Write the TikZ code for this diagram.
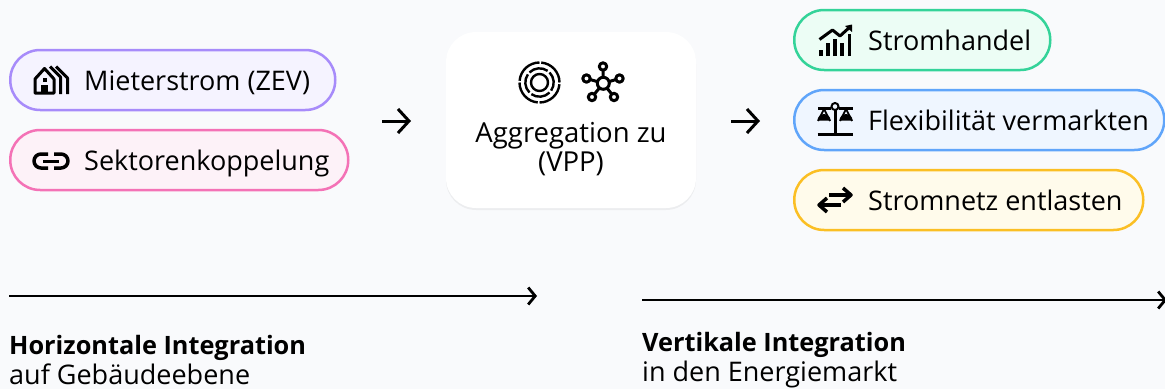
\documentclass[tikz,border=0pt]{standalone}
\usepackage{fontspec}
\setmainfont{Open Sans}
\usetikzlibrary{arrows.meta,shadows}
\definecolor{pagebg}{HTML}{F9FAFC}
\definecolor{violetline}{HTML}{A78BFA}
\definecolor{violetfill}{HTML}{F5F3FF}
\definecolor{pinkline}{HTML}{F472B6}
\definecolor{pinkfill}{HTML}{FDF2F8}
\definecolor{greenline}{HTML}{34D399}
\definecolor{greenfill}{HTML}{ECFDF5}
\definecolor{blueline}{HTML}{60A5FA}
\definecolor{bluefill}{HTML}{EFF6FF}
\definecolor{amberline}{HTML}{FBBF24}
\definecolor{amberfill}{HTML}{FFFBEB}
\begin{document}
\begin{tikzpicture}[
        x=1pt, y=-1pt,
        pill/.style 2 args={rectangle, draw=#1, fill=#2, line width=2.5pt,
          rounded corners=29.9pt, minimum height=60pt, inner sep=0pt, anchor=west},
        pilltext/.style={anchor=base west, inner sep=0pt, font=\fontsize{27}{30}\selectfont},
        card/.style={rectangle, fill=white, rounded corners=30pt, minimum width=250pt,
          minimum height=176pt, inner sep=0pt,
          drop shadow={shadow xshift=0pt, shadow yshift=-2pt, fill=black, opacity=0.05}},
        cardtext/.style={align=center, inner sep=0pt, font=\fontsize{27.5}{29}\selectfont},
        headtext/.style={anchor=base west, inner sep=0pt, align=left, font=\fontsize{27}{30}\selectfont},
        flow/.style={->, >={Straight Barb[length=11pt, width=24pt]}, line width=3pt},
        axis/.style={->, >={Straight Barb[length=7pt, width=17pt]}, line width=2.8pt},
        icon/.style={line width=3pt, line join=round},
        thinicon/.style={line width=2.4pt}
      ]
      \fill[pagebg] (0,0) rectangle (1165,389);
      \useasboundingbox (0,0) rectangle (1165,389);

      \node[pill={violetline}{violetfill}, minimum width=325pt] (mieter) at (9,80) {};
      \node[pill={pinkline}{pinkfill}, minimum width=338pt] (sektor) at (9,160) {};
      \node[card] (vpp) at (571,120) {};
      \node[pill={greenline}{greenfill}, minimum width=256pt] (handel) at (793,40) {};
      \node[pill={blueline}{bluefill}, minimum width=370pt] (flex) at (793,120) {};
      \node[pill={amberline}{amberfill}, minimum width=349pt] (netz) at (793,200) {};

      \node[pilltext] (mietertext) at (84,90) {Mieterstrom (ZEV)};
      \node[pilltext] (sektortext) at (84,170) {Sektorenkoppelung};
      \node[cardtext] (vpptext) at (571,149) {Aggregation zu\\(VPP)};
      \node[pilltext] (handeltext) at (868,50) {Stromhandel};
      \node[pilltext] (flextext) at (868,130) {Flexibilität vermarkten};
      \node[pilltext] (netztext) at (868,210) {Stromnetz entlasten};

      \coordinate (flowa) at (382,121);
      \coordinate (flowb) at (411,121);
      \coordinate (flowc) at (731,121);
      \coordinate (flowd) at (760,121);
      \draw[flow] (flowa) -- (flowb);
      \draw[flow] (flowc) -- (flowd);

      \coordinate (axisa) at (9,296);
      \coordinate (axisb) at (537,296);
      \coordinate (axisc) at (642,300);
      \coordinate (axisd) at (1167,300);
      \draw[axis] (axisa) -- (axisb);
      \draw[axis] (axisc) -- (axisd);

      \node[headtext] (horizontal) at (9,384) {{\fontsize{25.3}{30}\selectfont\bfseries Horizontale Integration}\\auf Gebäudeebene};
      \node[headtext] (vertikal) at (642,381) {{\fontsize{25.3}{30}\selectfont\bfseries Vertikale Integration}\\in den Energiemarkt};

      % house
      \draw[icon] (35,93) -- (35,79) -- (44.5,68.5) -- (54,79) -- (54,93) -- cycle;
      \fill (42.5,78) rectangle (46.5,81.5);
      \fill (41,85) rectangle (48,93);
      \draw[icon] (50,66.5) -- (60.5,77) -- (60.5,94);
      \draw[icon] (56,66.5) -- (67.5,78) -- (67.5,94);
      % link
      \draw[icon, line width=3.5pt] (48,154) -- (41,154) arc[start angle=-90, end angle=-270, radius=7] -- (48,168);
      \draw[icon, line width=3.5pt] (54,154) -- (61,154) arc[start angle=-90, end angle=90, radius=7] -- (54,168);
      \draw[icon] (43,161) -- (59,161);
      % target
      \draw[thinicon] (539.5,82.5) circle[radius=8.5];
      \foreach \a in {5,95,185,275} {
        \draw[thinicon] (539.5,82.5) ++(\a:20) arc[start angle=\a, end angle=\a+85, radius=20];
        \draw[thinicon] (539.5,82.5) ++(\a+40:14.2) arc[start angle=\a+40, end angle=\a+120, radius=14.2];
      }
      % network
      \foreach \px/\py in {603/66.5, 586.5/78.5, 619.5/78.5, 592/97, 614/97} {
        \draw[icon] (603.3,83.3) -- (\px,\py);
        \draw[icon, fill=white] (\px,\py) circle[radius=3.7];
      }
      \draw[icon, fill=white] (603.3,83.3) circle[radius=6];
      % chart
      \draw[icon, line width=3pt] (819.5,39.5) -- (832.5,30) -- (840,36) -- (851,26);
      \fill (852,24.5) -- (852,32) -- (845,26) -- cycle;
      \foreach \bx/\by in {821/50, 828/43, 835/39, 842/43, 849.5/34}
        \draw[line width=3.4pt] (\bx,56) -- (\bx,\by);
      % scale
      \draw[icon] (817.5,134.5) -- (853,134.5);
      \draw[icon] (835,110) -- (835,134.5);
      \draw[icon] (818,108) -- (831,108);
      \draw[icon] (839,108) -- (853,108);
      \draw[line width=2pt, fill=bluefill] (835,106.5) circle[radius=3.5];
      \draw[line width=1.8pt] (818,121) -- (824,109) -- (830,121);
      \draw[line width=1.8pt] (840,121) -- (846,109) -- (852,121);
      \fill (817.5,120.5) arc[start angle=180, end angle=360, radius=6.5] -- cycle;
      \fill (839.5,120.5) arc[start angle=180, end angle=360, radius=6.5] -- cycle;
      % exchange
      \draw[icon, line width=3.5pt] (829,195) -- (851,195);
      \draw[icon, line width=3.5pt] (843,188) -- (851,195) -- (843,202);
      \draw[icon, line width=3.5pt] (819,205) -- (841,205);
      \draw[icon, line width=3.5pt] (827,198) -- (819,205) -- (827,212);
    \end{tikzpicture}
\end{document}
